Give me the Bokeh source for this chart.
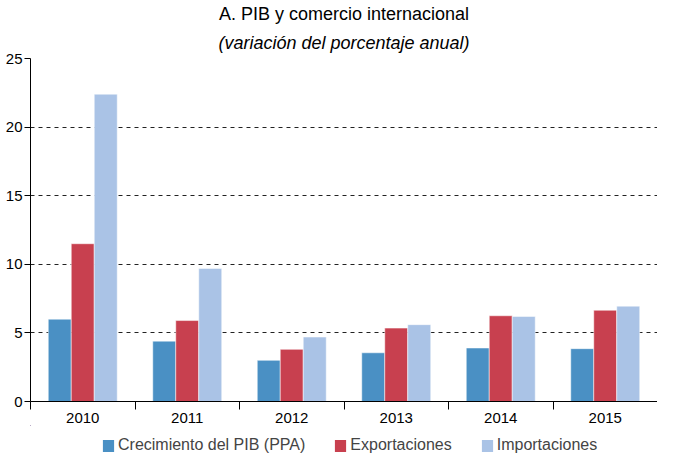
from bokeh.plotting import figure
from bokeh.layouts import column
from bokeh.models import ColumnDataSource, FixedTicker, Title, Range1d, Legend
from bokeh.embed import file_html
from bokeh.resources import INLINE

years = ["2010", "2011", "2012", "2013", "2014", "2015"]
pib = [6.0, 4.4, 3.0, 3.55, 3.9, 3.85]
exportaciones = [11.5, 5.9, 3.8, 5.35, 6.25, 6.65]
importaciones = [22.4, 9.7, 4.7, 5.6, 6.2, 6.95]
series_names = ["Crecimiento del PIB (PPA)", "Exportaciones", "Importaciones"]
colors = ["#4a90c4", "#c8404f", "#aac3e6"]
y_ticks = [0, 5, 10, 15, 20, 25]

FONT = "Liberation Sans"
centers = [i + 0.5 for i in range(len(years))]

p = figure(frame_width=627, frame_height=343, output_backend="svg", toolbar_location=None,
           x_range=Range1d(0, len(years)), y_range=Range1d(0, 25),
           min_border_left=30, min_border_right=0, min_border_bottom=0, min_border_top=0)
p.outline_line_color = None
p.background_fill_color = "white"

bw = 0.22
offsets = [-bw, 0, bw]
sources = []
for vals, col, off in zip([pib, exportaciones, importaciones], colors, offsets):
    src = ColumnDataSource(dict(x=[c + off for c in centers], top=vals))
    sources.append(src)
    p.vbar(x="x", top="top", width=bw, bottom=0, source=src,
           fill_color=col, line_color="white", line_alpha=0.5, line_width=1)

# x axis
p.xaxis.ticker = FixedTicker(ticks=centers, minor_ticks=list(range(len(years) + 1)))
p.xaxis.major_label_overrides = {c: y for c, y in zip(centers, years)}
p.xaxis.major_tick_out = 0
p.xaxis.major_tick_in = 0
p.xaxis.minor_tick_out = 8
p.xaxis.minor_tick_in = 0
p.xaxis.minor_tick_line_color = "black"
p.xaxis.axis_line_color = "black"
p.xaxis.major_label_text_font = FONT
p.xaxis.major_label_text_font_size = "15px"
p.xaxis.major_label_text_color = "black"
p.xaxis.major_label_standoff = 3

# y axis
p.yaxis.ticker = FixedTicker(ticks=y_ticks, minor_ticks=[])
p.yaxis.major_tick_out = 6
p.yaxis.major_tick_in = 0
p.yaxis.major_tick_line_color = "black"
p.yaxis.axis_line_color = "black"
p.yaxis.major_label_text_font = FONT
p.yaxis.major_label_text_font_size = "15px"
p.yaxis.major_label_text_color = "black"
p.yaxis.major_label_standoff = 2

p.xgrid.grid_line_color = None
p.ygrid.grid_line_color = "#222222"
p.ygrid.grid_line_dash = "4 4"
p.ygrid.grid_line_width = 1

p.add_layout(Title(text="(variación del porcentaje anual)", text_font_style="italic",
                   text_font=FONT, text_font_size="18px", align="center",
                   text_color="black", standoff=12), "above")
p.add_layout(Title(text="A. PIB y comercio internacional", text_font_style="normal",
                   text_font=FONT, text_font_size="18px", align="center",
                   text_color="black", standoff=2), "above")

# legend strip (same series, drawn outside the visible ranges; only the legend shows)
pl = figure(width=657, height=32, output_backend="svg", toolbar_location=None,
            x_range=Range1d(100, 101), y_range=Range1d(-200, -199),
            x_axis_location=None, y_axis_location=None, min_border=0)
pl.outline_line_color = None
pl.grid.grid_line_color = None
items = []
for name, col, src in zip(series_names, colors, sources):
    r = pl.vbar(x="x", top="top", width=bw, bottom=0, source=src,
                fill_color=col, line_color=None)
    items.append((name, [r]))
legend = Legend(items=items, orientation="horizontal", location=(71, 3),
                label_text_font=FONT, label_text_font_size="16px",
                label_height=16, label_width=10,
                glyph_width=14, glyph_height=15, spacing=28, label_standoff=3,
                border_line_color=None, background_fill_alpha=0, padding=0, margin=0)
pl.add_layout(legend, "center")

layout = column(p, pl, spacing=0)
open("out.html", "w").write(file_html(layout, INLINE))
